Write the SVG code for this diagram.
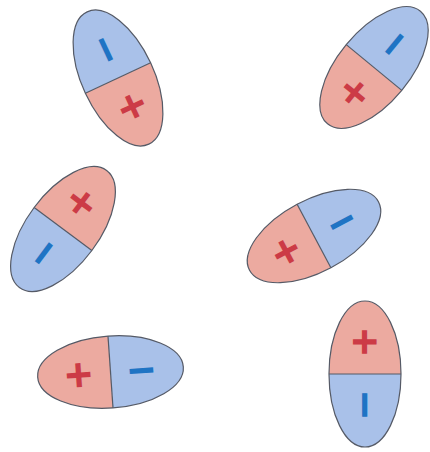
<svg xmlns="http://www.w3.org/2000/svg" xmlns:xlink="http://www.w3.org/1999/xlink" width="430" height="452" viewBox="0 0 430 452">
  <style>
    .pos { fill: #ecaaa0; }
    .neg { fill: #a9c1e9; }
    .edge { fill: none; stroke: #555a66; stroke-width: 1.2; }
    .sign { font-family: "Liberation Sans", Arial, sans-serif; font-weight: bold; font-size: 47px; text-anchor: middle; dominant-baseline: central; }
    .plus { fill: #cc3b46; }
    .minus { fill: #1f74c4; }
  </style>
  <defs>
    <g id="body">
      <path class="pos" d="M0,-36 A73,36 0 0 0 0,36 Z"/>
      <path class="neg" d="M0,-36 A73,36 0 0 1 0,36 Z"/>
      <ellipse class="edge" cx="0" cy="0" rx="73" ry="36"/>
      <line class="edge" x1="0" y1="-36" x2="0" y2="36"/>
    </g>
  </defs>
  <rect width="430" height="452" fill="#ffffff"/>
  <g id="connectors"/>
  <g id="dipole1" transform="translate(118,78) rotate(-115)">
    <use href="#body" xlink:href="#body"/>
    <text class="sign plus" x="-32" y="0">+</text>
    <text class="sign minus" x="31" y="0">−</text>
  </g>
  <g id="dipole2" transform="translate(374,67.5) rotate(-50.5)">
    <use href="#body" xlink:href="#body"/>
    <text class="sign plus" x="-32" y="0">+</text>
    <text class="sign minus" x="31" y="0">−</text>
  </g>
  <g id="dipole3" transform="translate(63,229) rotate(126.7)">
    <use href="#body" xlink:href="#body"/>
    <text class="sign plus" x="-32" y="0">+</text>
    <text class="sign minus" x="31" y="0">−</text>
  </g>
  <g id="dipole4" transform="translate(314,236) rotate(-28)">
    <use href="#body" xlink:href="#body"/>
    <text class="sign plus" x="-32" y="0">+</text>
    <text class="sign minus" x="31" y="0">−</text>
  </g>
  <g id="dipole5" transform="translate(110.5,372) rotate(-4)">
    <use href="#body" xlink:href="#body"/>
    <text class="sign plus" x="-32" y="0">+</text>
    <text class="sign minus" x="31" y="0">−</text>
  </g>
  <g id="dipole6" transform="translate(365,374) rotate(90)">
    <use href="#body" xlink:href="#body"/>
    <text class="sign plus" x="-32" y="0">+</text>
    <text class="sign minus" x="31" y="0">−</text>
  </g>
</svg>
